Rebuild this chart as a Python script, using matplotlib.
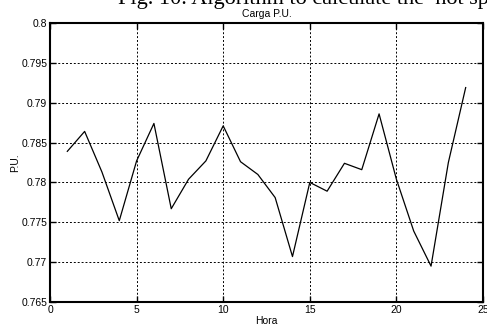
import matplotlib
matplotlib.use("Agg")
import matplotlib.pyplot as plt

hours = list(range(1, 25))
carga = [0.7839, 0.7864, 0.7813, 0.7752, 0.7827, 0.7874, 0.7767, 0.7804,
         0.7827, 0.7871, 0.7826, 0.7810, 0.7781, 0.7707, 0.7800, 0.7789,
         0.7824, 0.7816, 0.7886, 0.7804, 0.7739, 0.7695, 0.7825, 0.7919]
xticks = [0, 5, 10, 15, 20, 25]
yticks = [0.765, 0.77, 0.775, 0.78, 0.785, 0.79, 0.795, 0.8]
ytick_labels = ["0.765", "0.77", "0.775", "0.78", "0.785", "0.79", "0.795", "0.8"]

plt.rcParams['font.family'] = ['Liberation Sans', 'DejaVu Sans']

fig = plt.figure(figsize=(4.87, 3.26), dpi=100)
ax = fig.add_axes([50/487, 24/326, 433/487, 279/326])

ax.plot(hours, carga, color='black', linewidth=0.9)
ax.set_xlim(0, 25)
ax.set_ylim(0.765, 0.8)
ax.set_xticks(xticks)
ax.set_yticks(yticks)
ax.set_yticklabels(ytick_labels)
ax.grid(True, color='black', linestyle=(0, (2, 2)), linewidth=0.7)
ax.tick_params(direction='in', length=4, width=1, labelsize=7.5, pad=2,
               top=True, right=True)
for s in ax.spines.values():
    s.set_linewidth(1.5)
ax.set_title("Carga P.U.", fontsize=7.5, pad=4)
ax.set_xlabel("Hora", fontsize=7.5, labelpad=1)
ax.set_ylabel("P.U.", fontsize=7.5, labelpad=1)

fig.text(118/487, 1 - 4/326, "Fig. 10. Algorithm to calculate the  hot spot",
         family=['Liberation Serif'], fontsize=16, va='baseline', ha='left')

fig.savefig("out.png", dpi=100)
